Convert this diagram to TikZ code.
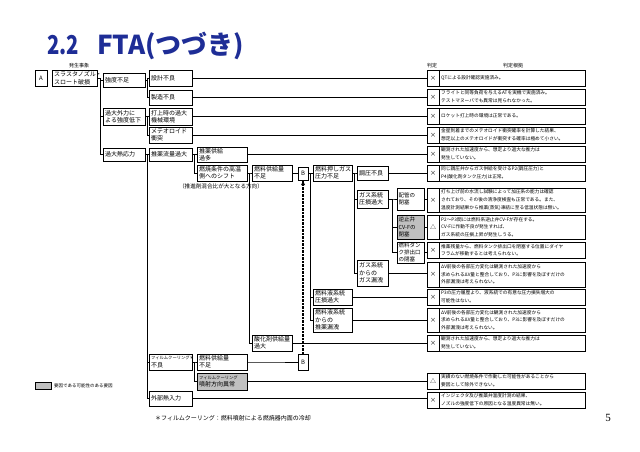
\documentclass[tikz,border=0pt]{standalone}
\usepackage{fontspec}
\setmainfont{Noto Sans CJK JP}
\newfontfamily\pagenumfont{Liberation Serif}
\usetikzlibrary{calc,shadows,arrows.meta,backgrounds}
\definecolor{titleblue}{HTML}{1E2D96}
\definecolor{boxgray}{HTML}{C0C0C0}
\tikzset{
  boxst/.style={draw=black, line width=0.6pt, inner sep=0pt, outer sep=0pt, fill=white,
    drop shadow={shadow xshift=0.7pt, shadow yshift=-0.7pt, opacity=0.45}},
  grayst/.style={boxst, fill=boxgray},
  txt/.style={inner sep=0pt, align=left, font=\fontsize{6}{7.4}\selectfont},
  txtsm/.style={inner sep=0pt, align=left, font=\fontsize{5.5}{7.2}\selectfont},
  jtxt/.style={inner sep=0pt, align=left, font=\fontsize{4.7}{7.6}\selectfont},
  jmark/.style={inner sep=0pt, font=\fontsize{6}{6}\selectfont},
  lbl/.style={inner sep=0pt, font=\fontsize{5}{6}\selectfont},
  ln/.style={line width=0.6pt, draw=black},
  dashln/.style={line width=1.1pt, draw=black, dash pattern=on 2.2pt off 1.3pt},
  ttl/.style={anchor=base west, inner sep=0pt, text=titleblue, font=\fontsize{26}{26}\selectfont\bfseries},
}
\newcommand\tbx[7][boxst]{%
  \node[#1, minimum width={#5-#3}, minimum height={#6-#4}, anchor=north west] (#2) at (#3,#4) {};
  \node[txt, anchor=west] at ([xshift=2pt]#2.west) {#7};}
\newcommand\tbs[7][boxst]{%
  \node[#1, minimum width={#5-#3}, minimum height={#6-#4}, anchor=north west] (#2) at (#3,#4) {};
  \node[txtsm, anchor=west] at ([xshift=1.5pt]#2.west) {#7};}
\newcommand\jdg[5]{%
  \node[boxst, minimum width=158pt, minimum height=#3pt, anchor=north west] (#1) at (427,#2) {};
  \draw[line width=0.5pt] ([xshift=12pt]#1.north west) -- ([xshift=12pt]#1.south west);
  \node[jmark] at ([xshift=6pt]#1.west) {#4};
  \node[jtxt, anchor=west] at ([xshift=14pt]#1.west) {#5};}
\newcommand\cn[2]{\draw[ln] (#1.east) -- ($(#1.east)!.5!(#1.east -| #2.west)$) |- (#2.west);}
\newcommand\cj[2]{\draw[ln] (#1.east) -- (#1.east -| #2.west);}
\begin{document}
\begin{tikzpicture}[x=1pt,y=-1pt]
\useasboundingbox (0,0) rectangle (640,452);
% title
\node[ttl] (title1) at (47,55) {\scalebox{0.78}[1]{2.2}};
\node[ttl] (title2) at (97,55) {FTA(つづき)};
% headers
\node[lbl] (hd1) at (79,66) {発生事象};
\node[lbl] (hd2) at (432,66) {判定};
\node[lbl] (hd3) at (513,66) {判定根拠};
% top event
\node[boxst, minimum width=12pt, minimum height=16pt, anchor=north west, font=\fontsize{6}{6}\selectfont] (A) at (35,70) {A};
\tbx{top}{52}{70}{97}{86}{スラスタノズル・\\スロート破損}
% level 1
\tbx{k1}{103}{73}{145}{87}{強度不足}
\tbx{k2}{103}{108}{145}{125}{過大外力に\\よる強度低下}
\tbx{k3}{103}{148}{145}{161}{過大熱応力}
% level 2
\tbx{sekkei}{149}{70}{192}{86}{設計不良}
\tbx{seizo}{149}{90}{192}{105}{製造不良}
\tbx{uchiage}{149}{108}{192}{125}{打上時の過大\\機械環境}
\tbx{meteo}{149}{127}{192}{143}{メテオロイド\\衝突}
\tbx{ryuryo}{149}{148}{192}{161}{推薬流量過大}
\node[boxst, minimum width=43pt, minimum height=16pt, anchor=north west] (film) at (149,354) {};
\node[txt, anchor=west] at ([xshift=2pt]film.west) {{\fontsize{4.3}{6}\selectfont フィルムクーリング＊}\\不良};
\tbx{gaibu}{149}{391}{192}{406}{外部熱入力}
% level 3
\tbx{kyokyu}{197}{147}{247}{162}{推薬供給\\過多}
\tbx{nensho}{197}{165}{247}{181}{燃焼条件の高温\\側へのシフト}
\node[inner sep=0pt, font=\fontsize{5.6}{6}\selectfont] (mix) at (221,186) {（推進剤混合比が大となる方向）};
\tbx{fuelB}{197}{354}{247}{370}{燃料供給量\\不足}
\node[grayst, minimum width=50pt, minimum height=17pt, anchor=north west] (funsha) at (197,373) {};
\node[txt, anchor=west] at ([xshift=2pt]funsha.west) {{\fontsize{4.3}{6}\selectfont フィルムクーリング}\\噴射方向異常};
% level 4
\tbx{fuelA}{252}{165}{292}{181}{燃料供給量\\不足}
\tbx{oxi}{252}{335}{292}{351}{酸化剤供給量\\過大}
% B boxes
\node[boxst, minimum width=10pt, minimum height=13pt, anchor=north west, font=\fontsize{6}{6}\selectfont] (Bup) at (298,167) {B};
\node[boxst, minimum width=10pt, minimum height=16pt, anchor=north west, font=\fontsize{6}{6}\selectfont] (Blo) at (298,354) {B};
% level 5
\tbx{oshi}{313}{165}{352}{181}{燃料押しガス\\圧力不足}
\tbx{ekiatsu}{313}{289}{352}{305}{燃料液系統\\圧損過大}
\tbx{ekiro}{313}{308}{352}{332}{燃料液系統\\からの\\推薬漏洩}
% level 6
\tbx{choatsu}{357}{166}{388}{180}{調圧不良}
\tbx{gasatsu}{357}{190}{388}{208}{ガス系統\\圧損過大}
\tbx{gasro}{357}{260}{388}{286}{ガス系統\\からの\\ガス漏洩}
% level 7
\tbs{haikan}{397}{188}{424}{210}{配管の\\閉塞}
\tbs[grayst]{cvf}{397}{215}{424}{239}{逆止弁\\CV-Fの\\閉塞}
\tbs{tank}{397}{242}{424}{263}{燃料タン\\ク排出口\\の閉塞}
% judgments
\jdg{j1}{70}{16}{×}{QTによる設計確認実施済み。}
\jdg{j2}{89}{16}{×}{フライトと同等負荷を与えるATを実機で実施済み。\\テストマヌーバでも異常は見られなかった。}
\jdg{j3}{108}{16}{×}{ロケット打上時の環境は正常である。}
\jdg{j4}{127}{16}{×}{金星到着までのメテオロイド衝突確率を計算した結果、\\想定以上のメテオロイドが衝突する確率は極めて小さい。}
\jdg{j5}{146}{16}{×}{観測された加速度から、想定より過大な推力は\\発生していない。}
\jdg{j6}{165}{16}{×}{同じ調圧弁からガス供給を受けるP2(調圧圧力)と\\P4(酸化剤タンク圧力)は正常。}
\jdg{j7}{188}{24}{×}{打ち上げ前の水流し試験によって加圧系の能力は確認\\されており、その後の清浄度検査も正常である。また、\\温度計測結果から推薬(蒸気)凍結に至る低温状態は無い。}
\jdg{j8}{215}{24}{△}{P2～P3間には燃料系逆止弁CV-Fが存在する。\\CV-Fに作動不良が発生すれば、\\ガス系統の圧損上昇が発生しうる。}
\jdg{j9}{242}{16}{×}{推薬残量から、燃料タンク排出口を閉塞する位置にダイヤ\\フラムが移動するとは考えられない。}
\jdg{j10}{262}{25}{×}{ΔV前後の各部圧力変化は観測された加速度から\\求められるΔV量と整合しており、P3に影響を及ぼすだけの\\外部漏洩は考えられない。}
\jdg{j11}{289}{16}{×}{P3の圧力履歴より、液系統での有意な圧力損失増大の\\可能性はない。}
\jdg{j12}{308}{24}{×}{ΔV前後の各部圧力変化は観測された加速度から\\求められるΔV量と整合しており、P3に影響を及ぼすだけの\\外部漏洩は考えられない。}
\jdg{j13}{335}{16}{×}{観測された加速度から、想定より過大な推力は\\発生していない。}
\jdg{j14}{373}{16}{△}{実績のない燃焼条件で作動した可能性があることから\\要因として除外できない。}
\jdg{j15}{392}{16}{×}{インジェクタ及び推薬弁温度計測の結果、\\ノズルの強度低下の原因となる温度異常は無い。}
% legend, footnote, page number
\node[grayst, minimum width=16pt, minimum height=7pt, anchor=north west] (leg) at (35,382) {};
\node[inner sep=0pt, anchor=west, font=\fontsize{4.5}{5}\selectfont] (legt) at ([xshift=3pt]leg.east) {要因である可能性のある要因};
\node[inner sep=0pt, anchor=west, font=\fontsize{6}{6}\selectfont] (foot) at (155,418) {＊フィルムクーリング：燃料噴射による燃焼器内面の冷却};
\node[inner sep=0pt, font=\pagenumfont\fontsize{11}{11}\selectfont] (pnum) at (608,418) {5};
% dashed link between the two B boxes, with arrowhead under the upper B
\coordinate (dtop) at ([yshift=-1pt]Bup.south);
\path[dashln] (Blo.north) -- (dtop);
\fill[black] (dtop) -- ++(-2,4) -- ++(4,0) -- cycle;
% connectors
\begin{scope}[on background layer]
\cn{top}{k1}\cn{top}{k2}\cn{top}{k3}
\cn{k1}{sekkei}\cn{k1}{seizo}
\cn{k2}{uchiage}\cn{k2}{meteo}
\cn{k3}{ryuryo}\cn{k3}{film}\cn{k3}{gaibu}
\cn{ryuryo}{kyokyu}\cn{ryuryo}{nensho}
\cn{nensho}{fuelA}\cn{nensho}{oxi}
\cn{fuelA}{Bup}
\cn{Bup}{oshi}\cn{Bup}{ekiatsu}\cn{Bup}{ekiro}
\cn{oshi}{choatsu}\cn{oshi}{gasatsu}\cn{oshi}{gasro}
\cn{gasatsu}{haikan}\cn{gasatsu}{cvf}\cn{gasatsu}{tank}
\cn{film}{fuelB}\cn{film}{funsha}
\cn{fuelB}{Blo}
\cj{sekkei}{j1}\cj{seizo}{j2}\cj{uchiage}{j3}\cj{meteo}{j4}\cj{kyokyu}{j5}
\cj{choatsu}{j6}\cj{haikan}{j7}\cj{cvf}{j8}\cj{tank}{j9}\cj{gasro}{j10}
\cj{ekiatsu}{j11}\cj{ekiro}{j12}\cj{oxi}{j13}\cj{funsha}{j14}\cj{gaibu}{j15}
\end{scope}
\end{tikzpicture}
\end{document}
